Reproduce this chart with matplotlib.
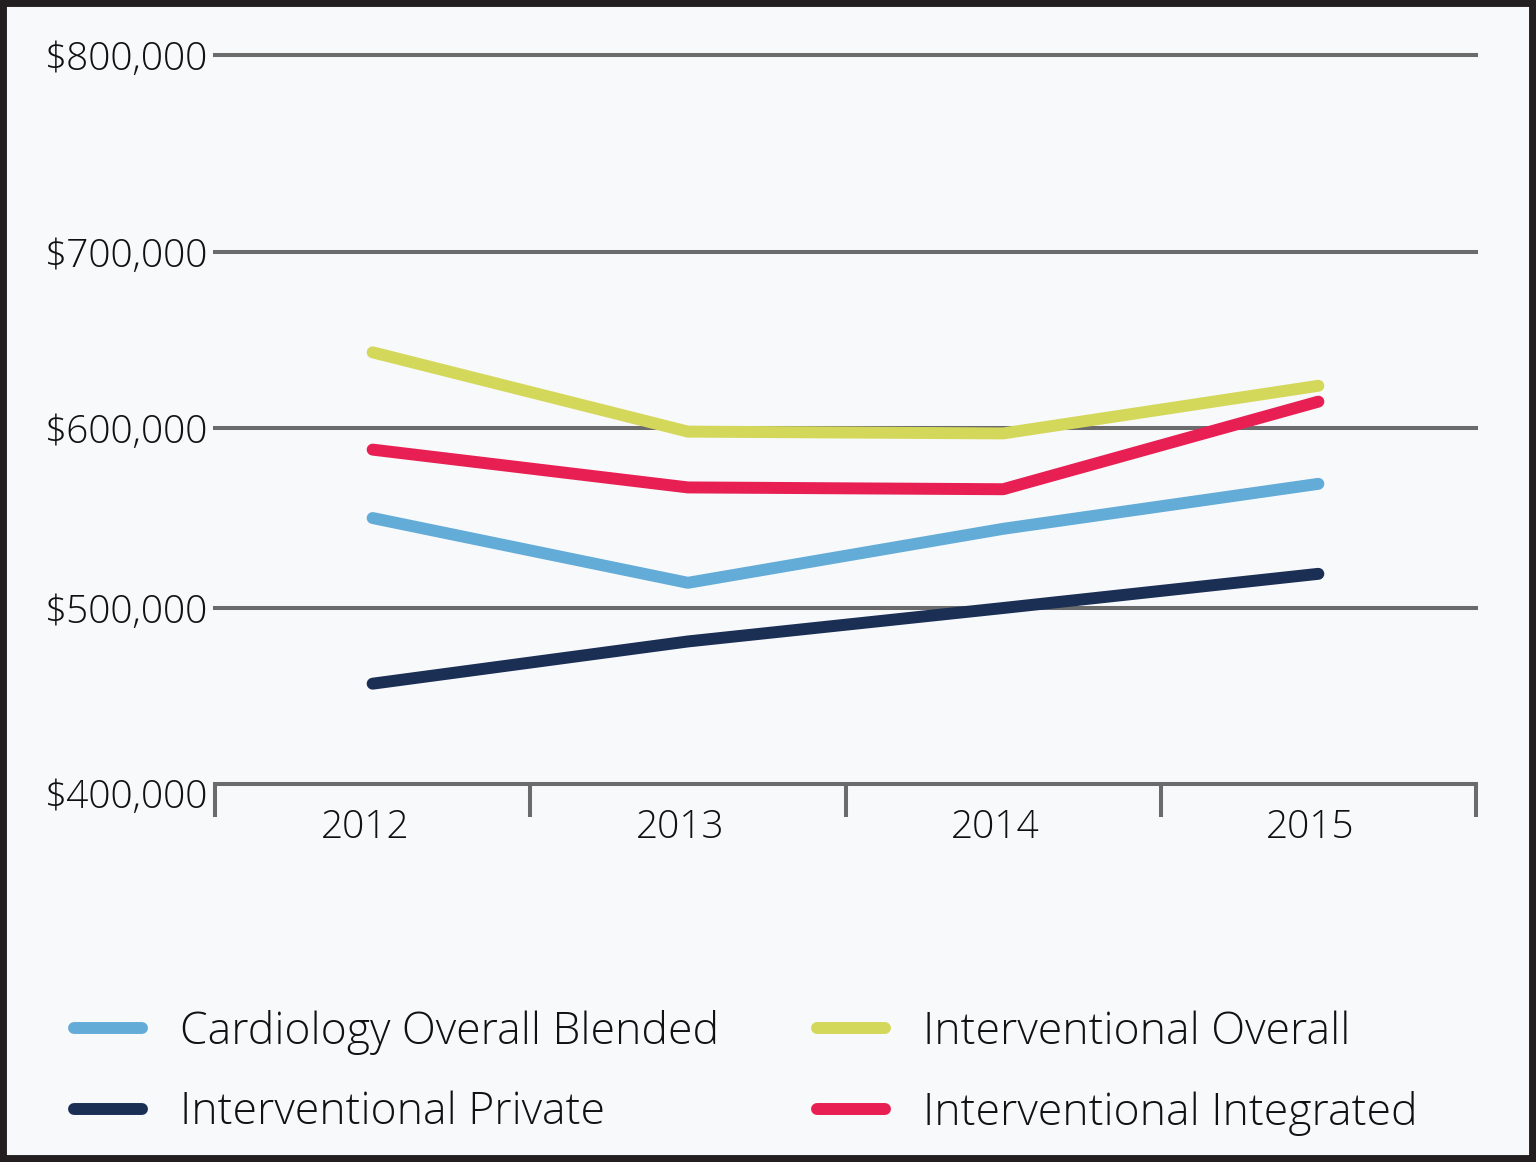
"""Cardiology compensation trend, 2012-2015."""

import matplotlib
matplotlib.use("Agg")
import matplotlib.pyplot as plt
import matplotlib.transforms as mtransforms
import numpy as np
from matplotlib.patches import Rectangle

plt.rcParams["font.family"] = ["Open Sans", "DejaVu Sans"]
plt.rcParams["font.weight"] = "light"

years = ["2012", "2013", "2014", "2015"]
cardiology_blended = [550000, 514000, 544000, 569000]
interventional_private = [457000, 481000, 500000, 519000]
interventional_overall = [643000, 598000, 597000, 624000]
interventional_integrated = [588000, 567000, 566000, 615000]

y_ticks = [400000, 500000, 600000, 700000, 800000]
# grid in the original is not evenly spaced; map tick values to axis fractions
y_tick_pos = [0.0, 0.2414, 0.4883, 0.7298, 1.0]

GRID = "#6b6b6b"
BG = "#f8f9fb"
TEXT = "#111111"

series = [
    ("Cardiology Overall Blended", cardiology_blended, "#63acd8"),
    ("Interventional Private", interventional_private, "#1b2f55"),
    ("Interventional Overall", interventional_overall, "#d4d85a"),
    ("Interventional Integrated", interventional_integrated, "#e81f53"),
]


def fwd(v):
    return np.interp(v, y_ticks, y_tick_pos)


def inv(p):
    return np.interp(p, y_tick_pos, y_ticks)


fig = plt.figure(figsize=(15.36, 11.62), dpi=100, facecolor=BG)
ax = fig.add_axes([215 / 1536, 1 - 784 / 1162, 1261 / 1536, 729 / 1162])
ax.set_facecolor(BG)
ax.set_yscale("function", functions=(fwd, inv))

x = np.arange(len(years))
handles = {}
for label, values, color in series:
    (line,) = ax.plot(x, values, color=color, lw=8.6, solid_capstyle="round",
                      solid_joinstyle="round", label=label, zorder=3)
    handles[label] = line

ax.set_xlim(-0.5, 3.5)
ax.set_ylim(400000, 800000)

for v in y_ticks[1:]:
    ax.axhline(v, color=GRID, lw=2.9, zorder=1, clip_on=False)

ax.set_yticks(y_ticks)
ax.set_yticklabels([f"${v:,.0f}" for v in y_ticks])
ax.tick_params(axis="y", length=0, pad=5, labelsize=28, labelcolor=TEXT)
# bottom label sits a little below its line in the original
bottom_lbl = ax.get_yticklabels()[0]
bottom_lbl.set_transform(bottom_lbl.get_transform() + mtransforms.ScaledTranslation(
    0, -7 / 72, fig.dpi_scale_trans))

ax.set_xticks([-0.5, 0.5, 1.5, 2.5, 3.5])
ax.set_xticklabels([])
ax.set_xticks(x - 0.025, minor=True)
ax.set_xticklabels(years, minor=True)
ax.tick_params(axis="x", which="major", length=24, width=2.9, color=GRID,
               direction="out")
ax.tick_params(axis="x", which="minor", length=0, pad=18, labelsize=28,
               labelcolor=TEXT)

for side in ["top", "right", "left"]:
    ax.spines[side].set_visible(False)
ax.spines["bottom"].set_color(GRID)
ax.spines["bottom"].set_linewidth(2.9)
ax.spines["bottom"].set_capstyle("projecting")

order = ["Cardiology Overall Blended", "Interventional Private",
         "Interventional Overall", "Interventional Integrated"]
leg = fig.legend(
    [handles[k] for k in order], order,
    loc="upper left", bbox_to_anchor=(74 / 1536, 1 - 1010 / 1162),
    borderpad=0, borderaxespad=0,
    ncol=2, frameon=False, fontsize=32,
    handlelength=1.53, handletextpad=0.86, columnspacing=2.19, labelspacing=0.8,
)
for t in leg.get_texts():
    t.set_color(TEXT)

fig.patches.append(Rectangle((0, 0), 1, 1, transform=fig.transFigure,
                             fill=False, lw=10, ec="#231f20", zorder=10))

fig.savefig("out.png", dpi=100, facecolor=BG)
